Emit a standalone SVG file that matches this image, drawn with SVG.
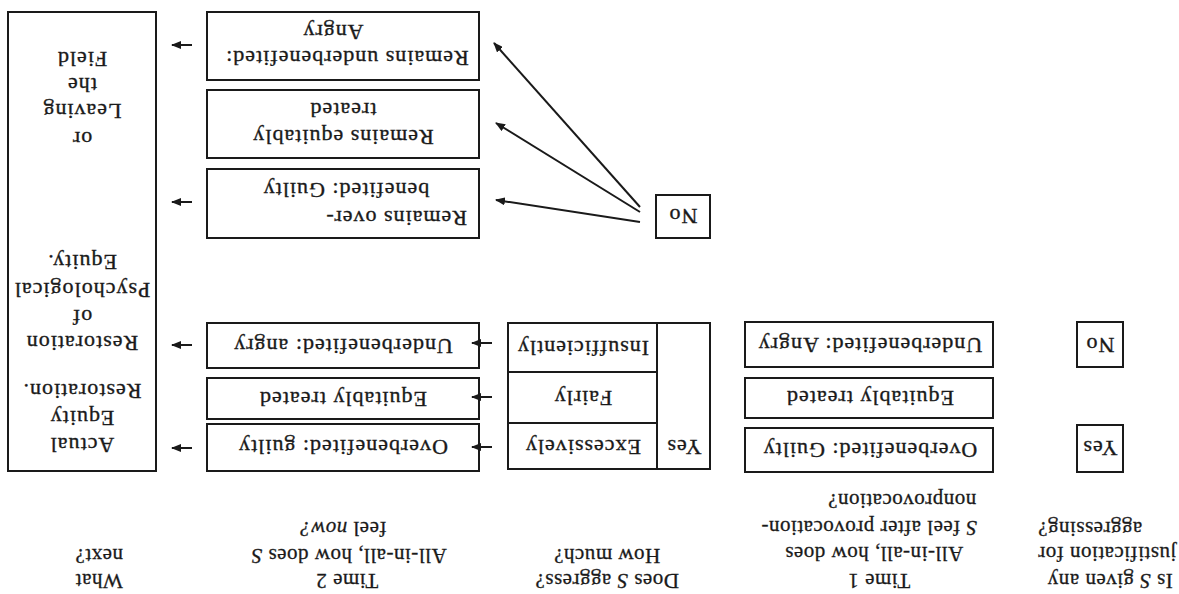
<svg xmlns="http://www.w3.org/2000/svg" width="1179" height="594" viewBox="0 0 1179 594">
<style>
  .box { fill: none; stroke: #1a1a1a; stroke-width: 2; }
  .ln { stroke: #1a1a1a; stroke-width: 2; fill: none; }
  .arr { stroke: #1a1a1a; stroke-width: 2; fill: none; marker-end: url(#ah); }
  .t { font-family: "Liberation Serif", "Times New Roman", serif; font-size: 22px; letter-spacing: 1px; fill: #1a1a1a; stroke: #1a1a1a; stroke-width: 0.35; text-anchor: middle; }
  .h { font-family: "Liberation Serif", "Times New Roman", serif; font-size: 21px; letter-spacing: 0.5px; fill: #1a1a1a; stroke: #1a1a1a; stroke-width: 0.3; text-anchor: middle; }
  .s { text-anchor: start; }
  .i { font-style: italic; }
</style>
<defs>
  <marker id="ah" viewBox="0 0 10 8" refX="9" refY="4" markerWidth="10" markerHeight="8" markerUnits="userSpaceOnUse" orient="auto">
    <path d="M0,0 L10,4 L0,8 z" fill="#1a1a1a"/>
  </marker>
</defs>
<rect x="0" y="0" width="1179" height="594" fill="#ffffff"/>
<g transform="rotate(180 589.5 297)">
  <g id="headers">
    <text class="h" x="69" y="20">Is <tspan class="i">S</tspan> given any</text>
    <text class="h" x="72" y="47">justification for</text>
    <text class="h" x="89" y="72">aggressing?</text>

    <text class="h" x="300" y="20">Time 1</text>
    <text class="h" x="305" y="47">All-in-all, how does</text>
    <text class="h" x="310" y="73"><tspan class="i">S</tspan> feel after provocation-</text>
    <text class="h" x="277" y="100">nonprovocation?</text>

    <text class="h" x="572" y="20">Does <tspan class="i">S</tspan> aggress?</text>
    <text class="h" x="572" y="45">How much?</text>

    <text class="h" x="832" y="20">Time 2</text>
    <text class="h" x="830" y="45">All-in-all, how does <tspan class="i">S</tspan></text>
    <text class="h" x="836" y="72">feel <tspan class="i">now?</tspan></text>

    <text class="h" x="1080" y="20">What</text>
    <text class="h" x="1080" y="45">next?</text>
  </g>

  <g id="justification-yes">
    <rect class="box" x="56" y="122" width="46" height="47"/>
    <text class="t" x="79" y="153">Yes</text>
  </g>
  <g id="justification-no">
    <rect class="box" x="56" y="227" width="46" height="45"/>
    <text class="t" x="79" y="256">No</text>
  </g>

  <g id="t1-overbenefited">
    <rect class="box" x="186" y="122" width="248" height="44"/>
    <text class="t" x="309" y="151">Overbenefited: Guilty</text>
  </g>
  <g id="t1-equitable">
    <rect class="box" x="186" y="176" width="248" height="40"/>
    <text class="t" x="309" y="203">Equitably treated</text>
  </g>
  <g id="t1-underbenefited">
    <rect class="box" x="186" y="227" width="248" height="45"/>
    <text class="t" x="309" y="256">Underbenefited: Angry</text>
  </g>

  <g id="aggress-yes">
    <rect class="box" x="469" y="125" width="202" height="146"/>
    <line class="ln" x1="522" y1="125" x2="522" y2="271"/>
    <line class="ln" x1="522" y1="171" x2="671" y2="171"/>
    <line class="ln" x1="522" y1="222" x2="671" y2="222"/>
    <text class="t" x="495" y="154">Yes</text>
    <text class="t" x="596" y="154">Excessively</text>
    <text class="t" x="596" y="203">Fairly</text>
    <text class="t" x="596" y="253">Insufficiently</text>
  </g>

  <g id="aggress-no">
    <rect class="box" x="469" y="356" width="54" height="43"/>
    <text class="t" x="496" y="385">No</text>
  </g>

  <g id="t2-overbenefited">
    <rect class="box" x="700" y="123" width="272" height="47"/>
    <text class="t" x="836" y="154">Overbenefited: guilty</text>
  </g>
  <g id="t2-equitable">
    <rect class="box" x="700" y="175" width="272" height="41"/>
    <text class="t" x="836" y="202">Equitably treated</text>
  </g>
  <g id="t2-underbenefited">
    <rect class="box" x="700" y="226" width="272" height="45"/>
    <text class="t" x="836" y="255">Underbenefited: angry</text>
  </g>

  <g id="t2-remains-over">
    <rect class="box" x="700" y="356" width="272" height="69"/>
    <text class="t s" x="712" y="383">Remains over-</text>
    <text class="t" x="833" y="411">benefited: Guilty</text>
  </g>
  <g id="t2-remains-equitable">
    <rect class="box" x="700" y="436" width="272" height="68"/>
    <text class="t" x="836" y="464">Remains equitably</text>
    <text class="t" x="836" y="491">treated</text>
  </g>
  <g id="t2-remains-under">
    <rect class="box" x="700" y="514" width="272" height="68"/>
    <text class="t" x="832" y="543">Remains underbenefited:</text>
    <text class="t" x="846" y="569">Angry</text>
  </g>

  <g id="outcome">
    <rect class="box" x="1023" y="123" width="148" height="459"/>
    <text class="t" x="1097" y="156">Actual</text>
    <text class="t" x="1097" y="183">Equity</text>
    <text class="t" x="1097" y="210">Restoration.</text>
    <text class="t" x="1097" y="258">Restoration</text>
    <text class="t" x="1097" y="284">of</text>
    <text class="t" x="1097" y="311">Psychological</text>
    <text class="t" x="1097" y="339">Equity.</text>
    <text class="t" x="1097" y="462">or</text>
    <text class="t" x="1097" y="490">Leaving</text>
    <text class="t" x="1097" y="516">the</text>
    <text class="t" x="1097" y="542">Field</text>
  </g>

  <g id="connectors">
    <line class="arr" x1="687" y1="147" x2="707" y2="147"/>
    <line class="arr" x1="687" y1="197" x2="707" y2="197"/>
    <line class="arr" x1="687" y1="251" x2="707" y2="251"/>
    <line class="arr" x1="539" y1="372" x2="683" y2="394"/>
    <line class="arr" x1="539" y1="382" x2="683" y2="471"/>
    <line class="arr" x1="539" y1="387" x2="685" y2="551"/>
    <line class="arr" x1="987" y1="146" x2="1007" y2="146"/>
    <line class="arr" x1="987" y1="249" x2="1007" y2="249"/>
    <line class="arr" x1="987" y1="392" x2="1007" y2="392"/>
    <line class="arr" x1="987" y1="549" x2="1007" y2="549"/>
  </g>
</g>
</svg>
